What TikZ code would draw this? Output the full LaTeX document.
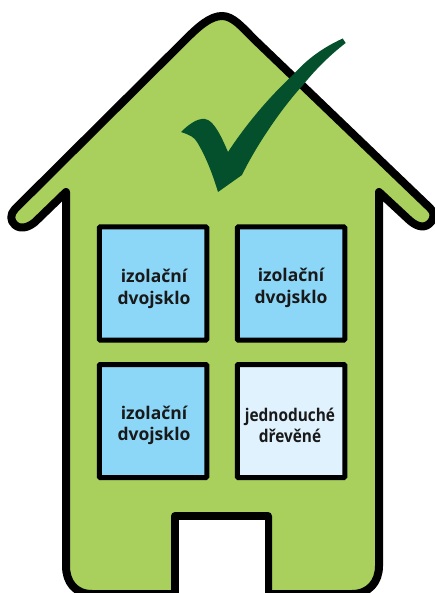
\documentclass[tikz,border=0pt]{standalone}
\usepackage{fontspec}
\setmainfont{Open Sans}
\definecolor{housegreen}{HTML}{A9D05C}
\definecolor{glassblue}{HTML}{8CD7F8}
\definecolor{glasspale}{HTML}{E0F2FD}
\definecolor{tickgreen}{HTML}{04502D}
\tikzset{
  windowbox/.style={draw=black,line width=5pt,rounded corners=1pt,minimum width=107.5pt,minimum height=113pt,inner sep=0pt},
  glasslabel/.style={inner sep=0pt,align=center,font=\fontsize{17.5}{21.5}\selectfont\bfseries,text=black!90},
  houseline/.style={draw=black,line width=8pt,line join=round,fill=housegreen},
}
\begin{document}
\begin{tikzpicture}[x=1pt,y=-1pt]
\useasboundingbox (0,0) rectangle (435,593);
\begin{scope}
\clip (0,0) rectangle (435,593);
\path[houseline]
  (175,600) -- (175,516) -- (268,516) -- (268,600) -- (268,594) -- (352,594)
  .. controls (369,594) and (379,582) .. (379,566)
  -- (379,192) -- (407,218)
  .. controls (415,226) and (423,229) .. (429,224)
  .. controls (435,219) and (435,212) .. (430,208)
  -- (255,40)
  .. controls (242,27) and (233,16) .. (222,16)
  .. controls (210,16) and (198,27) .. (185,40)
  -- (15,209)
  .. controls (10,214) and (10,221) .. (15,225)
  .. controls (21,230) and (29,227) .. (35,222)
  -- (66,192) -- (66,566)
  .. controls (66,582) and (75,594) .. (92,594)
  -- (175,594) -- cycle;
\fill[white] (178.5,520) rectangle (264.5,600);
\end{scope}
\node[windowbox,fill=glassblue] (w1) at (153,283.5) {};
\node[windowbox,fill=glassblue] (w2) at (291,283.5) {};
\node[windowbox,fill=glassblue] (w3) at (153,421) {};
\node[windowbox,fill=glasspale] (w4) at (291,421) {};
\node[glasslabel] (t1) at (154,289) {izolační\\dvojsklo};
\node[glasslabel] (t2) at (291,288) {izolační\\dvojsklo};
\node[glasslabel] (t3) at (154,425.5) {izolační\\dvojsklo};
\node[glasslabel,xscale=0.88,transform shape] (t4) at (290,425.5) {jednoduché\\dřevěné};
\fill[tickgreen] (342.7,38.5)
  .. controls (322,48) and (306,60) .. (293,75)
  .. controls (268,98) and (245,126) .. (228,152)
  .. controls (222,138) and (214,120) .. (205,119)
  .. controls (197,118) and (188,125) .. (181,132)
  .. controls (190,135) and (194,137) .. (197,142)
  .. controls (205,155) and (212,172) .. (218,192)
  -- (242,175)
  .. controls (255,148) and (280,110) .. (303,85)
  .. controls (315,70) and (330,55) .. (345.7,43) -- cycle;
\end{tikzpicture}
\end{document}
